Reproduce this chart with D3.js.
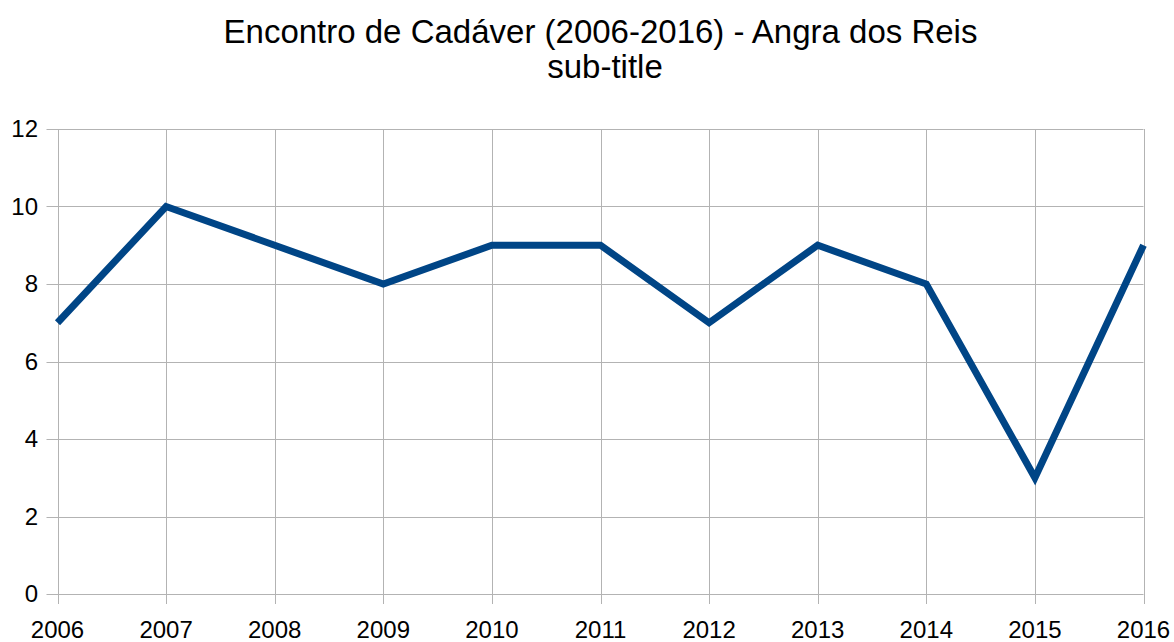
<!DOCTYPE html>
<html>
<head>
<meta charset="utf-8">
<script src="https://cdn.jsdelivr.net/npm/d3@7"></script>
<style>
  body { margin: 0; background: #fff; }
  text { font-family: "Liberation Sans", Arial, sans-serif; fill: #000; }
</style>
</head>
<body>
<div id="chart"></div>
<script>
const WIDTH = 1174;
const HEIGHT = 642;

const years = [2006, 2007, 2008, 2009, 2010, 2011, 2012, 2013, 2014, 2015, 2016];
const counts = [7, 10, 9, 8, 9, 9, 7, 9, 8, 3, 9];
const yTicks = [0, 2, 4, 6, 8, 10, 12];

const titleText = "Encontro de Cadáver (2006-2016) - Angra dos Reis";
const subtitleText = "sub-title";

const margin = {top: 129, right: 30, bottom: 48, left: 57.5};

const svg = d3.select("#chart")
  .append("svg")
  .attr("width", WIDTH)
  .attr("height", HEIGHT)
  .attr("viewBox", [0, 0, WIDTH, HEIGHT]);

const x = d3.scaleLinear()
  .domain([d3.min(years), d3.max(years)])
  .range([margin.left, 1143.5]);

const y = d3.scaleLinear()
  .domain([0, 12])
  .range([594, margin.top]);

// grid lines
svg.append("g")
  .selectAll("line")
  .data(yTicks)
  .enter().append("line")
  .attr("x1", margin.left - 11)
  .attr("x2", x.range()[1])
  .attr("y1", d => Math.round(y(d)) + 0.5)
  .attr("y2", d => Math.round(y(d)) + 0.5)
  .attr("stroke", "#b3b3b3")
  .attr("stroke-width", 1);

svg.append("g")
  .selectAll("line")
  .data(years)
  .enter().append("line")
  .attr("x1", d => Math.round(x(d)) + 0.5)
  .attr("x2", d => Math.round(x(d)) + 0.5)
  .attr("y1", y(12))
  .attr("y2", y(0) + 10)
  .attr("stroke", "#b3b3b3")
  .attr("stroke-width", 1);

// y labels
svg.append("g")
  .selectAll("text")
  .data(yTicks)
  .enter().append("text")
  .attr("x", 38)
  .attr("y", d => y(d))
  .attr("dy", "0.35em")
  .attr("text-anchor", "end")
  .style("font-size", "24px")
  .text(d => d);

// x labels
svg.append("g")
  .selectAll("text")
  .data(years)
  .enter().append("text")
  .attr("x", d => x(d))
  .attr("y", 638)
  .attr("text-anchor", "middle")
  .style("font-size", "24px")
  .text(d => d);

// the line
const line = d3.line()
  .x((d, i) => x(years[i]))
  .y(d => y(d));

svg.append("path")
  .datum(counts)
  .attr("fill", "none")
  .attr("stroke", "#004586")
  .attr("stroke-width", 7)
  .attr("stroke-linejoin", "miter")
  .attr("d", line);

// titles
svg.append("text")
  .attr("x", 600.5)
  .attr("y", 43)
  .attr("text-anchor", "middle")
  .style("font-size", "33px")
  .text(titleText);

svg.append("text")
  .attr("x", 605)
  .attr("y", 78)
  .attr("text-anchor", "middle")
  .style("font-size", "33px")
  .text(subtitleText);
</script>
</body>
</html>
